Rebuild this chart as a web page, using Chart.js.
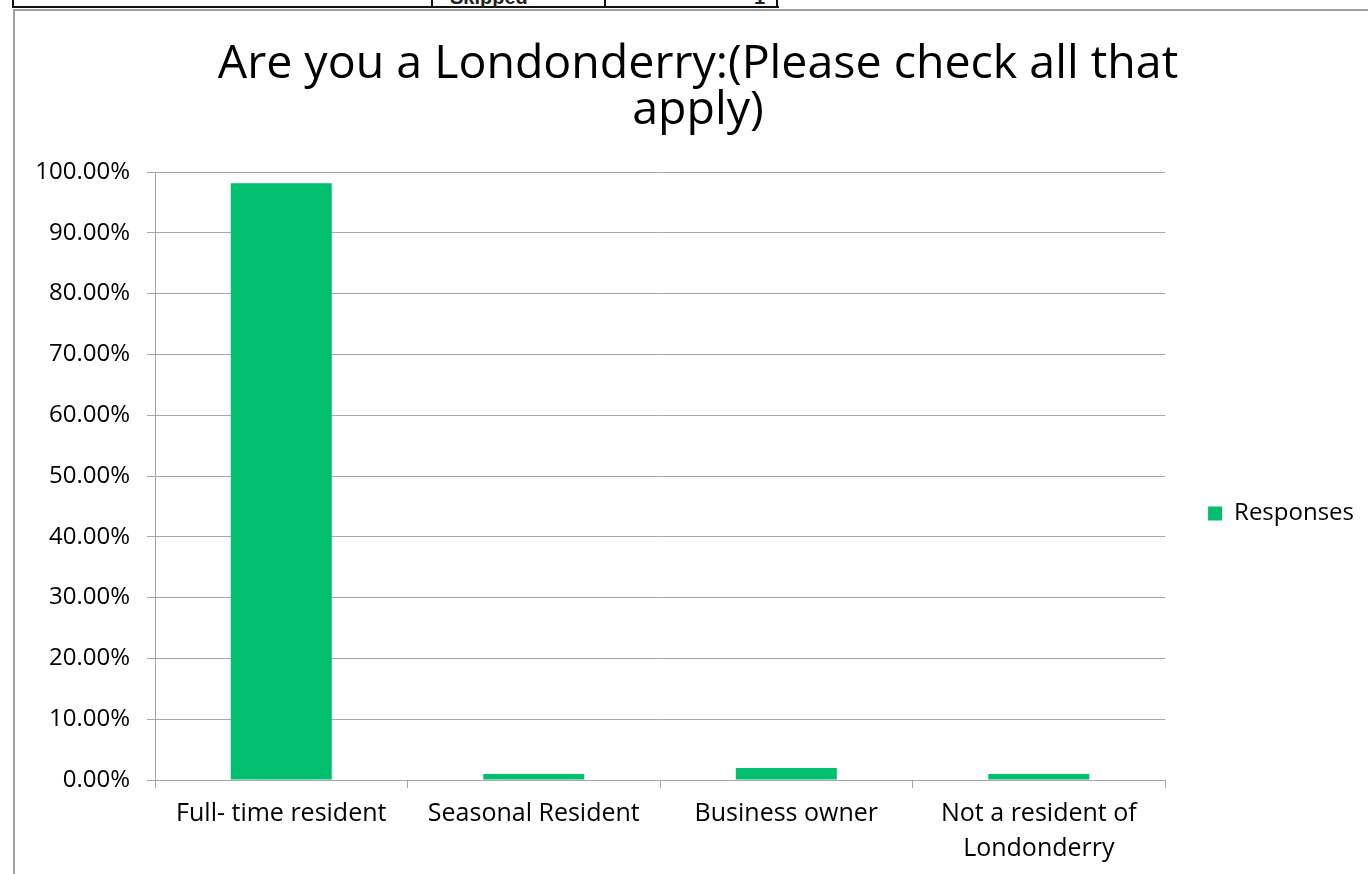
<!DOCTYPE html>
<html>
<head>
<meta charset="utf-8">
<script src="https://cdn.jsdelivr.net/npm/chart.js@4/dist/chart.umd.min.js"></script>
<style>
  body { margin: 0; background: #fff; overflow: hidden; }
  #page { position: relative; width: 1368px; height: 874px; }
  .line { position: absolute; }
  #frame { position: absolute; left: 13px; top: 9px; width: 1360px; height: 870px;
           border-left: 2px solid #a0a0a0; border-top: 2px solid #a0a0a0; }
  #wrap { position: absolute; left: 15px; top: 11px; width: 1353px; height: 863px; }
  .cell { position: absolute; top: -14px; font: bold 20px "Liberation Sans", Arial, sans-serif; color: #222; }
</style>
</head>
<body>
<div id="page">
  <!-- fragment of the table above the chart -->
  <div class="line" style="left:12px;top:6px;width:767px;height:2px;background:#111"></div>
  <div class="line" style="left:12px;top:0;width:2px;height:8px;background:#111"></div>
  <div class="line" style="left:431px;top:0;width:2px;height:8px;background:#111"></div>
  <div class="line" style="left:604px;top:0;width:2px;height:8px;background:#111"></div>
  <div class="line" style="left:776px;top:0;width:2px;height:8px;background:#111"></div>
  <div class="cell" style="left:450px">Skipped</div>
  <div class="cell" style="left:754px">1</div>
  <div id="frame"></div>
  <div id="wrap"><canvas id="chart" width="1353" height="863"></canvas></div>
</div>
<script>
// data
var categories = ['Full- time resident', 'Seasonal Resident', 'Business owner', ['Not a resident of', 'Londonderry']];
var responses = [0.9813, 0.0099, 0.0197, 0.0099];
var seriesName = 'Responses';
var chartTitle = ['Are you a Londonderry:(Please check all that', 'apply)'];

var green = '#00bf6f';
var gridColor = '#a6a6a6';
var fontFamily = '"Open Sans", "Liberation Sans", Arial, sans-serif';

new Chart(document.getElementById('chart'), {
  type: 'bar',
  data: {
    labels: categories,
    datasets: [{
      label: seriesName,
      data: responses,
      backgroundColor: green,
      borderWidth: 0,
      categoryPercentage: 1,
      barPercentage: 0.4
    }]
  },
  options: {
    responsive: false,
    animation: false,
    layout: { padding: { left: 17, right: 4, top: 30, bottom: 0 } },
    plugins: {
      title: {
        display: true,
        text: chartTitle,
        color: '#000',
        font: { family: fontFamily, size: 46.5, weight: 'normal', lineHeight: 1.0 },
        padding: { top: 0, bottom: 38 }
      },
      legend: {
        position: 'right',
        // empty legend title only pushes the entry down to where it sits in the original
        title: {
          display: true,
          text: ' ',
          font: { size: 12, lineHeight: 1 },
          padding: { top: 100, bottom: 0 }
        },
        labels: {
          color: '#000',
          boxWidth: 14,
          boxHeight: 14,
          padding: 43,
          font: { family: fontFamily, size: 24 }
        }
      },
      tooltip: { enabled: false }
    },
    scales: {
      x: {
        grid: {
          offset: true,
          drawOnChartArea: false,
          drawTicks: true,
          tickLength: 8,
          color: gridColor
        },
        border: { color: gridColor, width: 1 },
        ticks: {
          color: '#000',
          padding: 8,
          maxRotation: 0,
          font: { family: fontFamily, size: 25, lineHeight: 1.4 }
        },
        afterFit: function (scale) { scale.height = 94; }
      },
      y: {
        min: 0,
        max: 1,
        grid: { color: gridColor, tickLength: 8 },
        border: { color: gridColor, width: 1 },
        ticks: {
          stepSize: 0.1,
          color: '#000',
          padding: 17,
          font: { family: fontFamily, size: 24 },
          callback: function (v) { return (v * 100).toFixed(2) + '%'; }
        },
        afterFit: function (scale) { scale.width = 123; }
      }
    }
  }
});
</script>
</body>
</html>
